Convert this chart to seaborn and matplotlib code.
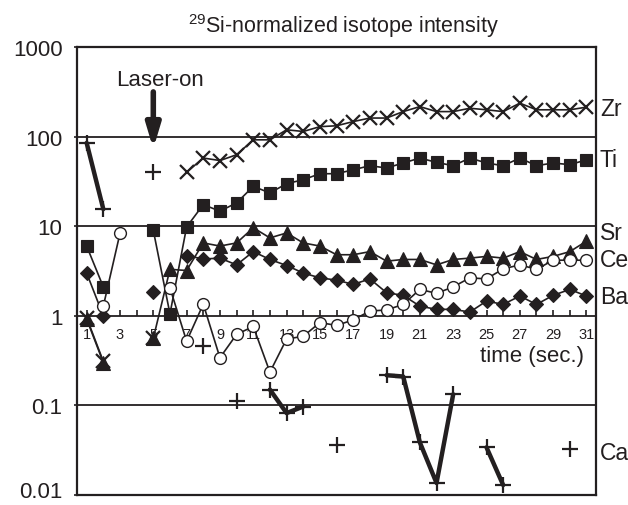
import numpy as np
import pandas as pd
import matplotlib
matplotlib.use("Agg")
import matplotlib.pyplot as plt
import matplotlib.transforms as mtransforms
import seaborn as sns

nan = np.nan
time = list(range(1, 32))

zr = [0.95, 0.31, nan, nan, 0.57, nan, 40, 57.6, 54, 62.7, 92, 92, 119, 114, 129, 132,
      147, 161, 161, 190, 216, 190, 190, 207, 199, 190, 236, 199, 199, 199, 213]
ti = [6.0, 2.1, nan, nan, 9.0, 1.05, 9.8, 17.4, 14.7, 18.2, 27.8, 23.5, 29.8, 33, 38.5, 38.5,
      42.6, 47.3, 44.6, 50.7, 57.6, 51.5, 47.3, 57.6, 50.7, 47.3, 57.6, 47.3, 50.7, 48.6, 55]
sr = [0.92, 0.30, nan, nan, 0.56, 3.3, 3.2, 6.5, 6.0, 6.5, 9.6, 7.4, 8.4, 6.5, 6.0, 4.8,
      4.8, 5.2, 4.07, 4.25, 4.25, 3.7, 4.25, 4.4, 4.6, 4.4, 5.2, 4.25, 4.6, 5.2, 6.8]
ba = [3.0, 1.0, nan, nan, 1.84, nan, 4.7, 4.3, 4.4, 3.7, 5.2, 4.25, 3.64, 3.0, 2.65, 2.5,
      2.24, 2.58, 1.81, 1.69, 1.28, 1.18, 1.18, 1.1, 1.46, 1.34, 1.66, 1.34, 1.69, 1.97, 1.66]
ce = [nan, 1.28, 8.3, nan, nan, 2.05, 0.52, 1.35, 0.34, 0.62, 0.76, 0.235, 0.55, 0.59, 0.84, 0.78,
      0.9, 1.13, 1.16, 1.34, 1.97, 1.78, 2.1, 2.65, 2.58, 3.34, 3.7, 3.3, 4.17, 4.17, 4.17]
ca = [85, 15.5, nan, nan, 40, nan, nan, 0.46, nan, 0.113, nan, 0.15, 0.082, 0.097, nan, 0.036,
      nan, nan, 0.217, 0.21, 0.0386, 0.0136, 0.133, nan, 0.034, 0.0129, nan, nan, nan, 0.0325, nan]

y_ticks = [0.01, 0.1, 1, 10, 100, 1000]
y_ticklabels = ["0.01", "0.1", "1", "10", "100", "1000"]
element_labels = ["Zr", "Ti", "Sr", "Ce", "Ba", "Ca"]
label_values = [204, 55, 8.5, 4.2, 1.66, 0.030]

INK = "#231f20"

sns.set_theme(style="white")
plt.rcParams["font.family"] = ["Liberation Sans", "DejaVu Sans"]
plt.rcParams["mathtext.fontset"] = "custom"
plt.rcParams["mathtext.rm"] = "Liberation Sans"

fig = plt.figure(figsize=(6.28, 5.06), dpi=100)
ax = fig.add_axes([0.1226, 0.0198, 0.8264, 0.8854])
ax.set_yscale("log")


def draw(values, marker, lw, **mk):
    df = pd.DataFrame({"t": time, "v": values})
    df["seg"] = df["v"].isna().cumsum()
    df = df.dropna()
    sns.lineplot(data=df, x="t", y="v", units="seg", estimator=None, sort=True,
                 color=INK, lw=lw, marker=marker, ax=ax, legend=False,
                 markeredgecolor=INK, **mk)


draw(ca, "+", 3.2, markersize=12, markeredgewidth=1.6)
draw(ti, "s", 1.2, markersize=8, markerfacecolor=INK, markeredgewidth=0.8)
draw(zr, "x", 1.2, markersize=10, markeredgewidth=1.6)
draw(sr, "^", 1.2, markersize=10.5, markerfacecolor=INK, markeredgewidth=0.8)
draw(ba, "D", 1.2, markersize=7.5, markerfacecolor=INK, markeredgewidth=0.8)
draw(ce, "o", 1.2, markersize=8.5, markerfacecolor="white", markeredgewidth=1.0)

ax.set_xlim(0.42, 31.57)
ax.set_ylim(0.01, 1000)
ax.set_xlabel("")
ax.set_ylabel("")
ax.set_xticks([])
ax.set_yticks(y_ticks)
ax.set_yticklabels(y_ticklabels)
ax.yaxis.set_minor_locator(matplotlib.ticker.NullLocator())
ax.tick_params(axis="y", direction="out", length=2.5, width=1.2, pad=8,
               labelsize=16, colors=INK, left=True)

# nudge the bottom label up a little so it stays inside the canvas
low = ax.yaxis.get_major_ticks()[0].label1
low.set_transform(low.get_transform() +
                  mtransforms.ScaledTranslation(0, 4 / 72, fig.dpi_scale_trans))

for s in ax.spines.values():
    s.set_visible(True)
    s.set_linewidth(1.6)
    s.set_color(INK)

for yv in [0.1, 10, 100]:
    ax.axhline(yv, color=INK, lw=1.3, zorder=1)

sec = ax.secondary_xaxis(0.4)
sec.set_xticks(time)
sec.set_xticklabels([str(t) if t % 2 else "" for t in time])
sec.tick_params(direction="in", length=4, width=1.2, pad=8, labelsize=10.5, colors=INK)
sec.spines["bottom"].set_linewidth(1.3)
sec.spines["bottom"].set_color(INK)

for lab, v in zip(element_labels, label_values):
    ax.text(31.8, v, lab, ha="left", va="center", fontsize=16.5, color=INK, clip_on=False)

ax.text(30.85, 0.36, "time (sec.)", ha="right", va="center", fontsize=16, color=INK)
ax.text(5.4, 430, "Laser-on", ha="center", va="center", fontsize=16, color=INK)
ax.annotate("", xy=(5, 73), xytext=(5, 315),
            arrowprops=dict(arrowstyle="-|>,head_length=1.0,head_width=0.3",
                            mutation_scale=14, lw=4, color=INK, shrinkA=0, shrinkB=0))

fig.text(344 / 628, 1 - 33 / 506, r"$\mathregular{^{29}}$Si-normalized isotope intensity",
         ha="center", va="baseline", fontsize=15.5, color=INK)

fig.savefig("out.png", dpi=100)
